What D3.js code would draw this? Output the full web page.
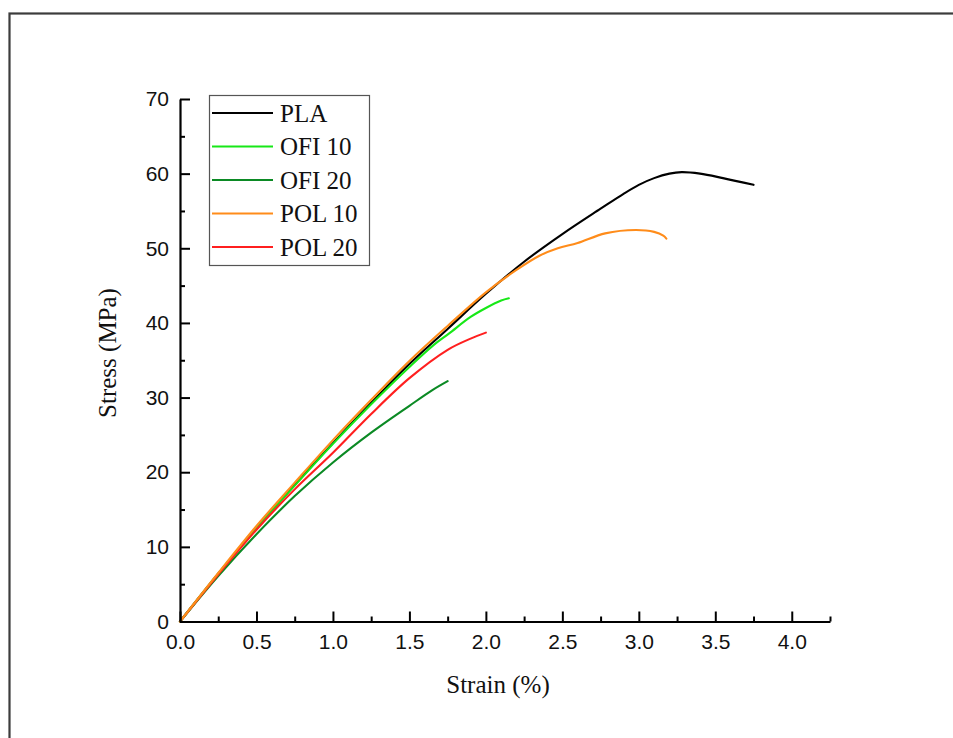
<!DOCTYPE html>
<html>
<head>
<meta charset="utf-8">
<script src="https://cdn.jsdelivr.net/npm/d3@7"></script>
<style>
  html, body { margin: 0; padding: 0; background: #fff; }
  svg { display: block; }
</style>
</head>
<body>
<svg id="chart" width="953" height="738"></svg>
<script>
// ---- data ----
const seriesNames = ["PLA", "OFI 10", "OFI 20", "POL 10", "POL 20"];
const seriesColors = ["#000000", "#17e817", "#0b8a24", "#ff8c1a", "#ff1f1f"];

const plaStrain   = [0, 0.25, 0.5, 0.75, 1.0, 1.25, 1.5, 1.75, 2.0, 2.25, 2.5, 2.75, 2.9, 3.0, 3.1, 3.2, 3.28, 3.4, 3.55, 3.75];
const plaStress   = [0, 6.4, 12.5, 18.3, 23.9, 29.3, 34.5, 39.2, 43.9, 48.2, 51.9, 55.3, 57.3, 58.5, 59.4, 60.0, 60.2, 60.0, 59.4, 58.5];

const ofi10Strain = [0, 0.25, 0.5, 0.75, 1.0, 1.25, 1.5, 1.65, 1.76, 1.9, 2.0, 2.1, 2.15];
const ofi10Stress = [0, 6.4, 12.5, 18.2, 23.8, 29.1, 34.1, 36.9, 38.6, 40.8, 42.0, 43.0, 43.3];

const ofi20Strain = [0, 0.25, 0.5, 0.75, 1.0, 1.25, 1.5, 1.65, 1.75];
const ofi20Stress = [0, 6.1, 11.7, 16.8, 21.3, 25.3, 28.9, 31.0, 32.2];

const pol10Strain = [0, 0.25, 0.5, 0.75, 1.0, 1.25, 1.5, 1.75, 2.0, 2.2, 2.35, 2.47, 2.6, 2.78, 2.98, 3.1, 3.16, 3.18];
const pol10Stress = [0, 6.5, 12.8, 18.6, 24.3, 29.7, 34.9, 39.6, 44.1, 47.1, 49.0, 50.0, 50.7, 52.0, 52.45, 52.2, 51.7, 51.3];

const pol20Strain = [0, 0.25, 0.5, 0.75, 1.0, 1.25, 1.5, 1.75, 1.9, 2.0];
const pol20Stress = [0, 6.3, 12.3, 17.7, 22.6, 27.8, 32.6, 36.4, 37.9, 38.7];

const xTicks = [0, 0.5, 1.0, 1.5, 2.0, 2.5, 3.0, 3.5, 4.0];
const xMinorTicks = [0.25, 0.75, 1.25, 1.75, 2.25, 2.75, 3.25, 3.75, 4.25];
const yTicks = [0, 10, 20, 30, 40, 50, 60, 70];
const yMinorTicks = [5, 15, 25, 35, 45, 55, 65];

const xTitle = "Strain (%)";
const yTitle = "Stress (MPa)";

// ---- build ----
const strains = [plaStrain, ofi10Strain, ofi20Strain, pol10Strain, pol20Strain];
const stresses = [plaStress, ofi10Stress, ofi20Stress, pol10Stress, pol20Stress];
const series = seriesNames.map((name, i) => ({
  name, color: seriesColors[i],
  points: strains[i].map((s, j) => [s, stresses[i][j]])
}));

const svg = d3.select("#chart");

// outer frame
svg.append("rect")
  .attr("x", 9.5).attr("y", 13.5)
  .attr("width", 960).attr("height", 760)
  .attr("fill", "none").attr("stroke", "#3c3c3c").attr("stroke-width", 2.2);

const x = d3.scaleLinear().domain([0, 4.25]).range([180, 830]);
const y = d3.scaleLinear().domain([0, 70]).range([621.5, 99]);

const sansFont = "'Liberation Sans', Arial, sans-serif";
const serifFont = "'Liberation Serif', 'Times New Roman', serif";

// curves
const line = d3.line().x(d => x(d[0])).y(d => y(d[1])).curve(d3.curveCatmullRom.alpha(0.5));
const drawOrder = [0, 2, 1, 4, 3];
drawOrder.forEach(i => {
  svg.append("path")
    .datum(series[i].points)
    .attr("d", line)
    .attr("fill", "none")
    .attr("stroke", series[i].color)
    .attr("stroke-width", 2.1)
    .attr("stroke-linejoin", "round")
    .attr("stroke-linecap", "round");
});

// x axis
const xAxisG = svg.append("g").attr("transform", `translate(0,${y(0)})`);
xAxisG.call(d3.axisBottom(x).tickValues(xTicks).tickSizeInner(-10).tickSizeOuter(0)
  .tickPadding(13).tickFormat(d3.format(".1f")));
const xMinorG = svg.append("g").attr("transform", `translate(0,${y(0)})`);
xMinorG.call(d3.axisBottom(x).tickValues(xMinorTicks).tickSizeInner(-5).tickSizeOuter(0).tickFormat(""));
xMinorG.select(".domain").remove();

// y axis
const yAxisG = svg.append("g").attr("transform", `translate(${x(0)},0)`);
yAxisG.call(d3.axisLeft(y).tickValues(yTicks).tickSizeInner(-10).tickSizeOuter(0)
  .tickPadding(11).tickFormat(d3.format("d")));
const yMinorG = svg.append("g").attr("transform", `translate(${x(0)},0)`);
yMinorG.call(d3.axisLeft(y).tickValues(yMinorTicks).tickSizeInner(-5).tickSizeOuter(0).tickFormat(""));
yMinorG.select(".domain").remove();

svg.selectAll(".domain").attr("stroke", "#000").attr("stroke-width", 2.2);
svg.selectAll(".tick line").attr("stroke", "#000").attr("stroke-width", 2);
svg.selectAll(".tick text")
  .attr("font-family", sansFont)
  .attr("font-size", 21)
  .attr("fill", "#111");
xAxisG.selectAll(".tick text").attr("dy", "0.71em");

// axis titles
svg.append("text")
  .attr("x", 498).attr("y", 693)
  .attr("text-anchor", "middle")
  .attr("font-family", serifFont).attr("font-size", 25).attr("fill", "#111")
  .text(xTitle);

svg.append("text")
  .attr("transform", `translate(116,353) rotate(-90)`)
  .attr("text-anchor", "middle")
  .attr("font-family", serifFont).attr("font-size", 25).attr("fill", "#111")
  .text(yTitle);

// legend
const legend = svg.append("g");
legend.append("rect")
  .attr("x", 209.5).attr("y", 95.5).attr("width", 160).attr("height", 170)
  .attr("fill", "#fff").attr("stroke", "#555").attr("stroke-width", 1.2);
const legendY = d3.scalePoint().domain(seriesNames).range([113, 247]);
series.forEach(s => {
  const yy = legendY(s.name);
  legend.append("line")
    .attr("x1", 212).attr("x2", 273).attr("y1", yy).attr("y2", yy)
    .attr("stroke", s.color).attr("stroke-width", 2.1);
  legend.append("text")
    .attr("x", 280).attr("y", yy).attr("dy", "0.35em")
    .attr("font-family", serifFont).attr("font-size", 25).attr("fill", "#111")
    .text(s.name);
});
</script>
</body>
</html>
